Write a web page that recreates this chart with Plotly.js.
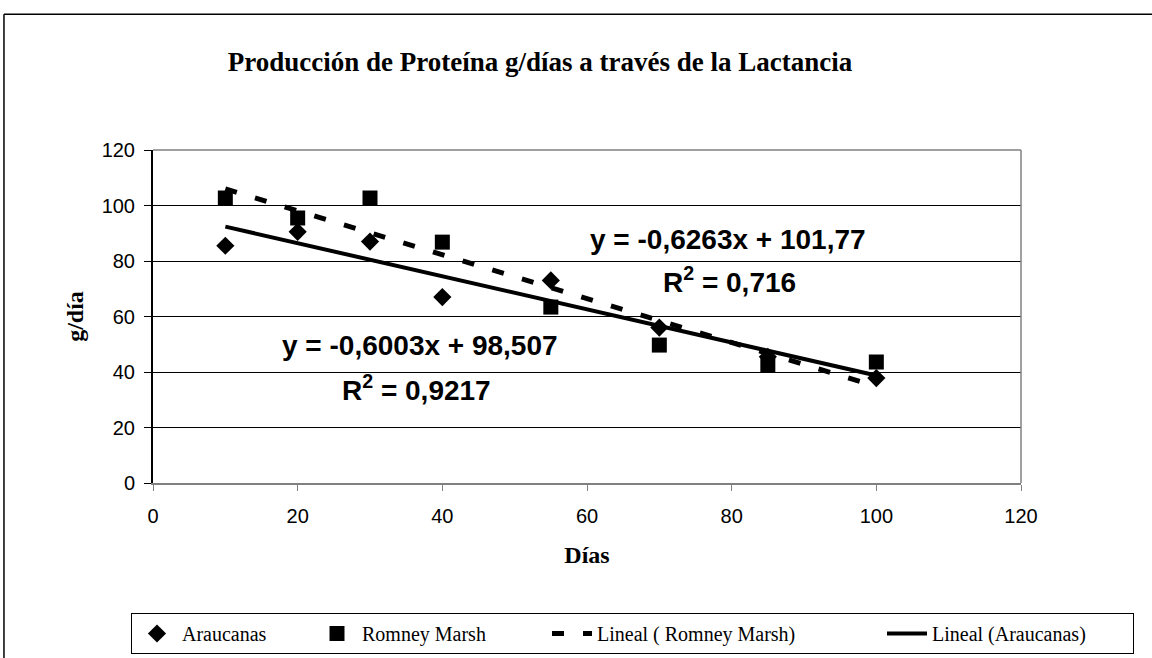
<!DOCTYPE html>
<html><head><meta charset="utf-8">
<script src="https://cdn.plot.ly/plotly-3.0.1.min.js"></script>
<style>html,body{margin:0;padding:0;background:#fff}#chart{width:1152px;height:658px}</style>
</head><body><div id="chart"></div>
<script>
const dias = [10, 20, 30, 40, 55, 70, 85, 100];
const araucanas = [85.5, 90.5, 87, 67, 73, 56, 45.5, 37.8];
const romney = [102.7, 95.5, 102.7, 86.8, 63.4, 49.7, 42.5, 43.6];
const seriesNames = ["Araucanas", "Romney Marsh", "Lineal ( Romney Marsh)", "Lineal (Araucanas)"];
const eqRomney = ["y = -0,6263x + 101,77", "R<sup>2</sup> = 0,716"];
const eqArauc = ["y = -0,6003x + 98,507", "R<sup>2</sup> = 0,9217"];

function fit(x, y) {
  const n = x.length;
  const mx = x.reduce((a, b) => a + b, 0) / n;
  const my = y.reduce((a, b) => a + b, 0) / n;
  let sxy = 0, sxx = 0;
  for (let i = 0; i < n; i++) { sxy += (x[i] - mx) * (y[i] - my); sxx += (x[i] - mx) ** 2; }
  const m = sxy / sxx, b = my - m * mx;
  const xs = [Math.min(...x), Math.max(...x)];
  return { x: xs, y: xs.map(v => m * v + b) };
}
const fR = fit(dias, romney), fA = fit(dias, araucanas);

const traces = [
  { x: dias, y: araucanas, name: seriesNames[0], mode: "markers", type: "scatter", legendwidth: 125,
    marker: { symbol: "diamond", size: 14, color: "#000" } },
  { x: dias, y: romney, name: seriesNames[1], mode: "markers", type: "scatter", legendwidth: 180,
    marker: { symbol: "square", size: 15, color: "#000" } },
  { x: fR.x, y: fR.y, name: seriesNames[2], mode: "lines", type: "scatter", legendwidth: 280,
    line: { color: "#000", width: 5, dash: "12px,19px" } },
  { x: fA.x, y: fA.y, name: seriesNames[3], mode: "lines", type: "scatter", legendwidth: 196,
    line: { color: "#000", width: 4 } }
];

const annFont = { family: "Liberation Sans, Arial", size: 28, color: "#000" };
const serif = "Liberation Serif, Times New Roman";
function ann(text, px, py) {
  return { text: "<b>" + text + "</b>", xref: "paper", yref: "paper",
    x: (px - 153) / 868, y: (483 - py) / 333, xanchor: "center", yanchor: "middle",
    showarrow: false, font: annFont };
}
const layout = {
  width: 1152, height: 658,
  margin: { l: 153, r: 131, t: 150, b: 175, autoexpand: false },
  paper_bgcolor: "#fff", plot_bgcolor: "#fff",
  showlegend: true,
  title: { text: "<b>Producción de Proteína g/días a través de la Lactancia</b>",
    font: { family: serif, size: 27, color: "#000" },
    xref: "container", yref: "container",
    x: 540 / 1152, xanchor: "center", y: 1 - 62 / 658, yanchor: "middle" },
  xaxis: { range: [0, 120], dtick: 20, tick0: 0, showgrid: false, zeroline: false, automargin: false,
    showline: true, linecolor: "#808080", linewidth: 1.5,
    ticks: "outside", ticklen: 6, tickcolor: "#808080", ticklabelstandoff: 8,
    tickfont: { family: "Liberation Sans, Arial", size: 20, color: "#000" },
    title: { text: "<b>Días</b>", font: { family: serif, size: 24, color: "#000" }, standoff: 20 } },
  yaxis: { range: [0, 120], dtick: 20, tick0: 0, showgrid: true, gridcolor: "#000", gridwidth: 1, automargin: false,
    zeroline: false, showline: true, linecolor: "#000", linewidth: 2,
    ticks: "outside", ticklen: 7, tickcolor: "#000", ticklabelstandoff: 5,
    tickfont: { family: "Liberation Sans, Arial", size: 20, color: "#000" },
    title: { text: "<b>g/día</b>", font: { family: serif, size: 24, color: "#000" }, standoff: 11 } },
  legend: { orientation: "h", xref: "paper", yref: "paper",
    x: (131 - 153) / 868, xanchor: "left", y: (483 - 613) / 333, yanchor: "top",
    bordercolor: "#000", borderwidth: 1, bgcolor: "#fff",
    font: { family: serif, size: 20, color: "#000" },
    itemwidth: 40, tracegroupgap: 0 },
  shapes: [
    { type: "line", xref: "paper", yref: "paper", x0: 0, x1: 1, y0: 1, y1: 1, line: { color: "#808080", width: 1.5 } },
    { type: "line", xref: "paper", yref: "paper", x0: 1, x1: 1, y0: 0, y1: 1, line: { color: "#808080", width: 1.5 } },
    { type: "line", xref: "paper", yref: "paper", x0: -0.1717, x1: 1.2, y0: 1.408, y1: 1.408, line: { color: "#000", width: 1.5 }, layer: "below" },
    { type: "line", xref: "paper", yref: "paper", x0: -0.1717, x1: -0.1717, y0: -0.6, y1: 1.408, line: { color: "#000", width: 1.5 }, layer: "below" }
  ],
  annotations: [
    ann(eqRomney[0], 728, 239),
    ann(eqRomney[1], 729, 280),
    ann(eqArauc[0], 420, 345),
    ann(eqArauc[1], 416, 388)
  ]
};
Plotly.newPlot("chart", traces, layout, { displayModeBar: false, staticPlot: true });
</script></body></html>
